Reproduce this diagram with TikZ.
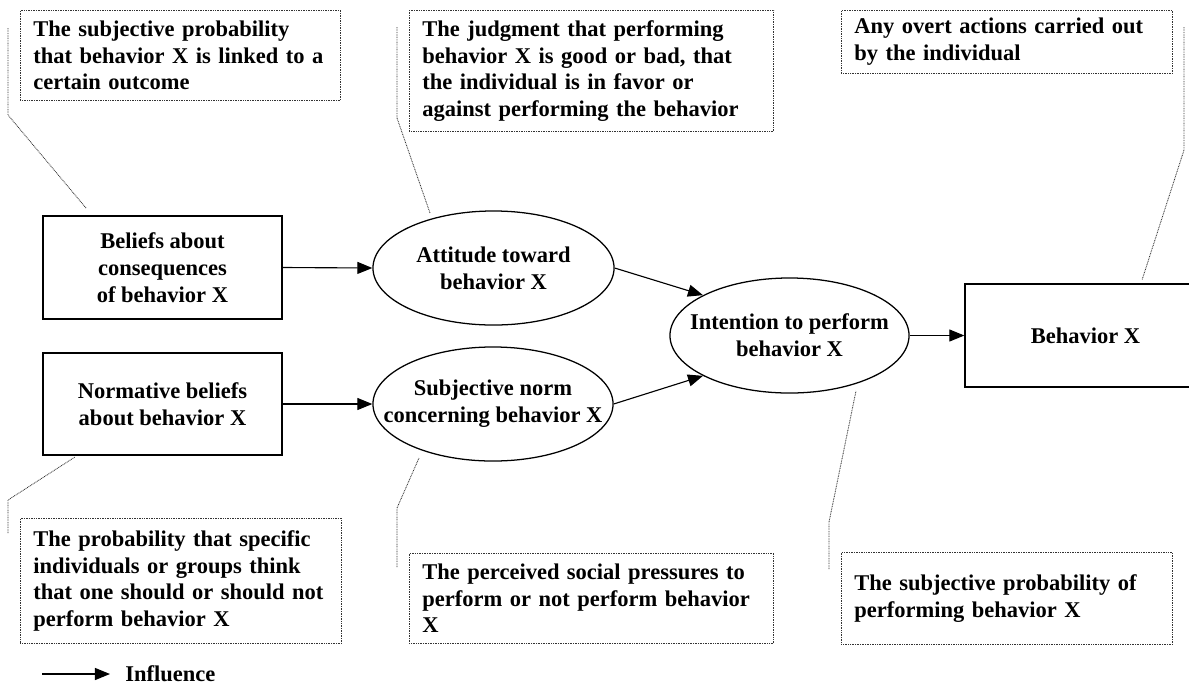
\documentclass[tikz,border=0pt]{standalone}
\usepackage{fontspec}
\setmainfont{Liberation Serif}
\usetikzlibrary{positioning,shapes.geometric,arrows.meta,backgrounds}

\begin{document}
\begin{tikzpicture}[
  x=0.025cm, y=-0.025cm,
  every node/.style={font=\bfseries\fontsize{16}{19}\selectfont},
  factor/.style={draw, line width=0.9pt, align=center, inner sep=2pt},
  oval/.style={draw, ellipse, line width=0.9pt, align=center,
    inner xsep=-1cm, inner ysep=0pt},
  note/.style={draw=black!80, dash pattern=on 0.6pt off 0.6pt, line width=0.6pt,
    align=left, anchor=north west, inner xsep=0.325cm, inner ysep=0pt},
  leader/.style={draw=black!80, dash pattern=on 0.6pt off 0.6pt, line width=0.6pt},
  arr/.style={-{Triangle[length=0.375cm,width=0.3cm]}, line width=0.8pt},
]
\useasboundingbox (0,0) rectangle (1189,686);

% model
\node[factor, minimum width=5.975cm, minimum height=2.575cm] at (162.5,267.5) (beliefs)
  {Beliefs about\\consequences\\of behavior X};
\node[factor, minimum width=5.975cm, minimum height=2.55cm] at (162.5,404) (normative)
  {Normative beliefs\\about behavior X};
\node[oval, minimum width=6.025cm, minimum height=2.85cm] at (493.5,268) (attitude)
  {Attitude toward\\behavior X};
\node[oval, minimum width=6.0cm, minimum height=2.85cm] at (493,404) (subjnorm)
  {Subjective norm\\concerning behavior X};
\node[oval, minimum width=5.975cm, minimum height=2.875cm] at (789.5,335.5) (intention)
  {Intention to perform\\behavior X};
\node[factor, minimum width=6.025cm, minimum height=2.575cm] at (1085.5,335.5) (behavior)
  {Behavior X};

% definitions
\node[note, text width=7.35cm, minimum height=2.25cm] at (20,10) (defBelief)
  {The subjective probability\\that behavior X is linked to a\\certain outcome};
\node[note, text width=8.45cm, minimum height=3.025cm] at (409,10) (defAttitude)
  {The judgment that performing\\behavior X is good or bad, that\\the individual is in favor or\\against performing the behavior};
\node[note, text width=7.625cm, minimum height=1.575cm] at (841,10) (defBehavior)
  {Any overt actions carried out\\by the individual};
\node[note, text width=7.375cm, minimum height=3.125cm] at (20,518) (defNormative)
  {The probability that specific\\individuals or groups think\\that one should or should not\\perform behavior X};
\node[note, text width=8.45cm, minimum height=2.25cm] at (409,553) (defNorm)
  {The perceived social pressures to\\perform or not perform behavior\\X};
\node[note, text width=7.625cm, minimum height=2.3cm] at (841,552) (defIntention)
  {The subjective probability of\\performing behavior X};

% leader lines
\coordinate (defBeliefA) at (8,28);
\coordinate (defBeliefB) at (8,115);
\coordinate (defBeliefC) at (86,208);
\coordinate (defAttitudeA) at (397,27);
\coordinate (defAttitudeB) at (397,118);
\coordinate (defAttitudeC) at (430,213);
\coordinate (defBehaviorA) at (1184,27);
\coordinate (defBehaviorB) at (1184,150);
\coordinate (defBehaviorC) at (1142,280);
\coordinate (defNormativeA) at (8,533);
\coordinate (defNormativeB) at (8,500);
\coordinate (defNormativeC) at (75,457);
\coordinate (defNormA) at (397,567);
\coordinate (defNormB) at (397,508);
\coordinate (defNormC) at (419,458);
\coordinate (defIntentionA) at (829,569);
\coordinate (defIntentionB) at (829,522);
\coordinate (defIntentionC) at (856,391);

\draw[leader] (defBeliefA) -- (defBeliefB) -- (defBeliefC);
\draw[leader] (defAttitudeA) -- (defAttitudeB) -- (defAttitudeC);
\draw[leader] (defBehaviorA) -- (defBehaviorB) -- (defBehaviorC);
\draw[leader] (defNormativeA) -- (defNormativeB) -- (defNormativeC);
\draw[leader] (defNormA) -- (defNormB) -- (defNormC);
\draw[leader] (defIntentionA) -- (defIntentionB) -- (defIntentionC);

% legend
\coordinate (legendFrom) at (42,674);
\coordinate (legendTo) at (110,674);
\node[anchor=west, inner sep=0pt] at (125,674) (legend) {Influence};

\begin{pgfonlayer}{background}
\draw[arr] (beliefs.east)   -- (attitude.west);
\draw[arr] (normative.east) -- (subjnorm.west);
\draw[arr] (attitude.east)  -- (intention.155);
\draw[arr] (subjnorm.east)  -- (intention.205);
\draw[arr] (intention.east) -- (behavior.west);
\draw[arr] (legendFrom)     -- (legendTo);
\end{pgfonlayer}
\end{tikzpicture}
\end{document}
